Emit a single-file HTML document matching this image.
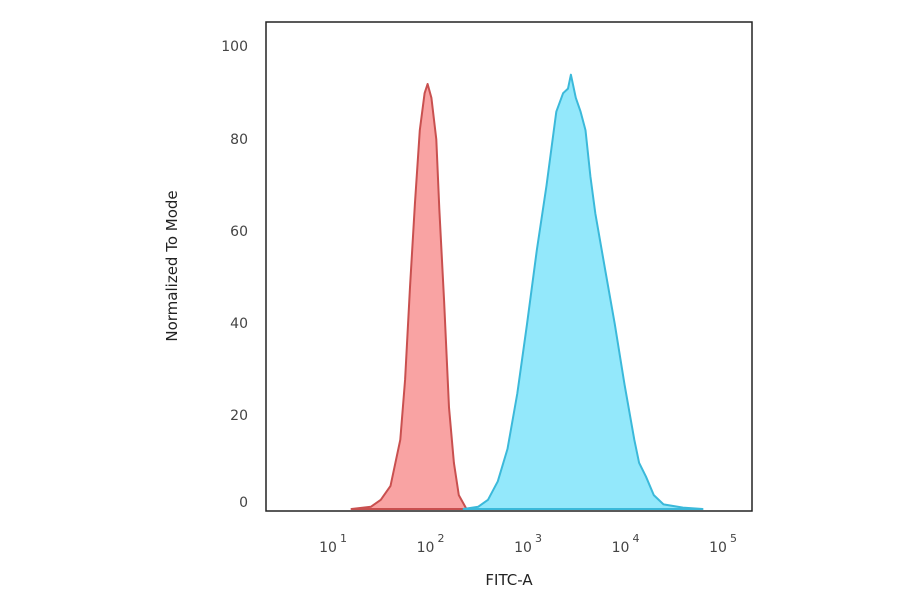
<!DOCTYPE html>
<html><head><meta charset="utf-8"><style>
body{margin:0;background:#fff;}
svg{display:block;font-family:"DejaVu Sans","Liberation Sans",sans-serif;}
</style></head><body>
<svg id="chart" width="900" height="594"></svg>
<script>
const redX=[1.2,1.4,1.5,1.6,1.7,1.75,1.8,1.85,1.9,1.95,1.98,2.02,2.07,2.1,2.15,2.2,2.25,2.3,2.38];
const redY=[0,0.5,2,5,15,28,48,66,82,90,92,89,80,65,45,22,10,3,0];
const blueX=[2.35,2.5,2.6,2.7,2.8,2.9,3.0,3.1,3.2,3.25,3.3,3.37,3.42,3.45,3.5,3.55,3.6,3.65,3.7,3.8,3.9,4.0,4.1,4.15,4.22,4.3,4.4,4.6,4.8];
const blueY=[0,0.5,2,6,13,25,40,56,70,78,86,90,91,94,89,86,82,72,64,52,40,27,15,10,7,3,1,0.3,0];
const yTicks=[0,20,40,60,80,100];
const xTicks=[1,2,3,4,5];
const NS="http://www.w3.org/2000/svg";
const svg=document.getElementById('chart');
const L=266,R=752,T=22,B=511;
const xs=d=>332+(d-1)*97.5;
const ys=v=>509-v*4.62;
function mk(tag,attrs,parent){const e=document.createElementNS(NS,tag);for(const k in attrs)e.setAttribute(k,attrs[k]);(parent||svg).appendChild(e);return e;}
function area(X,Y,fill,stroke,name){
  let d='M'+xs(X[0])+','+ys(0);
  for(let i=0;i<X.length;i++)d+=' L'+xs(X[i]).toFixed(1)+','+ys(Y[i]).toFixed(1);
  d+=' L'+xs(X[X.length-1])+','+ys(0)+' Z';
  const p=mk('path',{d:d,fill:fill,stroke:stroke,'stroke-width':2,'stroke-linejoin':'round'});
  
  
}
area(redX,redY,'#f9a3a3','#c9504f','isotype-control-histogram');
area(blueX,blueY,'#93e8fb','#3bb9da','antibody-stained-histogram');
const frame=mk('rect',{x:L,y:T,width:R-L,height:B-T,fill:'none',stroke:'#222','stroke-width':1.5});


yTicks.forEach(v=>{
  const t=mk('text',{x:248,y:[507,420,328,236,144,51][yTicks.indexOf(v)],'text-anchor':'end','font-size':14,fill:'#444'});
  t.textContent=v;
  
  
});
xTicks.forEach(d=>{
  const t=mk('text',{x:xs(d)-4,y:552,'text-anchor':'middle','font-size':14,fill:'#444'});
  t.textContent='10';
  
  
  const s=mk('text',{x:xs(d)+8,y:542,'font-size':11,fill:'#444'});
  s.textContent=d;
  
  
});
const xt=mk('text',{x:509,y:585,'text-anchor':'middle','font-size':15,fill:'#222'});
xt.textContent='FITC-A';


const yt=mk('text',{x:0,y:0,'text-anchor':'middle','font-size':15,fill:'#222',transform:'translate(177,266) rotate(-90)'});
yt.textContent='Normalized To Mode';


</script>
</body></html>
